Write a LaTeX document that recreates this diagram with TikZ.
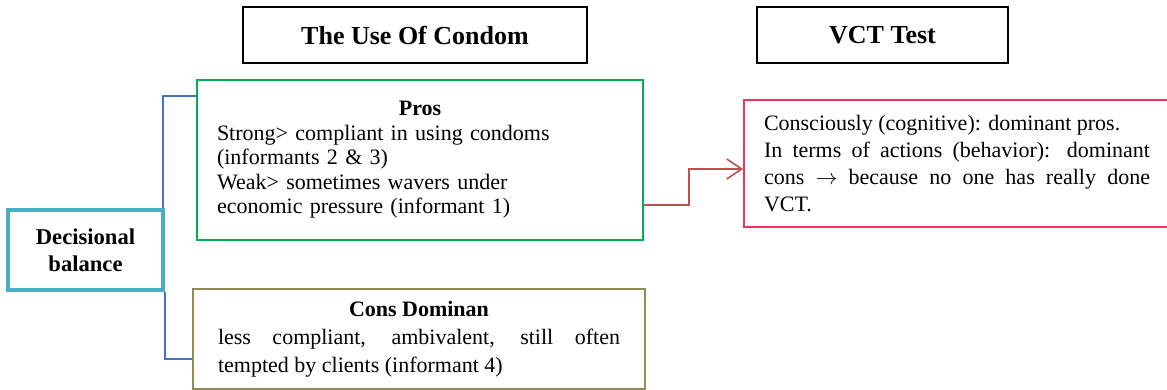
\documentclass[tikz,border=0pt]{standalone}
\usepackage{fontspec}
\setmainfont{Liberation Serif}
\usetikzlibrary{arrows.meta,positioning,calc}

\definecolor{prosgreen}{RGB}{0,176,80}
\definecolor{consolive}{RGB}{148,138,84}
\definecolor{vctpink}{RGB}{236,52,96}
\definecolor{balanceteal}{RGB}{75,172,198}
\definecolor{bracketblue}{RGB}{68,114,196}
\definecolor{arrowred}{RGB}{192,80,77}

\begin{document}
\begin{tikzpicture}[x=0.5pt, y=-0.5pt,
      header/.style={draw, line width=0.8pt, minimum width=172pt, minimum height=28pt,
        font=\fontsize{13}{15}\selectfont\bfseries},
      balance/.style={draw=balanceteal, line width=2pt, minimum width=77.5pt, minimum height=40pt,
        align=center, font=\fontsize{11.3}{13.5}\selectfont\bfseries},
      textbox/.style={draw, line width=0.8pt, inner xsep=10pt,
        font=\fontsize{11}{12.25}\selectfont},
      bracket/.style={draw=bracketblue, line width=0.7pt},
      arrow/.style={-{Straight Barb[length=7.5pt,width=10pt]}, arrowred, line width=0.8pt}
    ]
      \useasboundingbox (0,0) rectangle (1167,390);

      % Headers
      \node[header] (condom) at (415,35) {The Use Of Condom};
      \node[header, minimum width=125.5pt] (vcttitle) at (882.5,35) {VCT Test};

      % Decisional balance
      \node[balance] (dec) at (85.5,250) {Decisional\\balance};

      % Pros
      \node[textbox, draw=prosgreen, minimum width=223pt, minimum height=80pt,
        text width=203pt, align=left] (pros) at (420,160)
        {\makebox[\linewidth]{\textbf{Pros}}\\
         Strong> compliant in using condoms\\
         (informants 2 \& 3)\\
         Weak> sometimes wavers under\\
         economic pressure (informant 1)};

      % Cons
      \node[textbox, draw=consolive, minimum width=226pt, minimum height=50pt,
        text width=201pt, inner xsep=12.5pt, align=justify,
        font=\fontsize{11}{14}\selectfont] (cons) at (419,339)
        {\makebox[\linewidth]{\textbf{Cons Dominan}}\\
         less compliant, ambivalent, still often\linebreak
         tempted by clients (informant 4)};

      % VCT
      \node[textbox, draw=vctpink, minimum width=213pt, minimum height=63.5pt,
        text width=193pt, align=justify,
        font=\fontsize{11}{13.5}\selectfont] (vct) at (957,163.5)
        {Consciously (cognitive): dominant pros.\\
         In terms of actions (behavior): dominant\linebreak
         cons $\rightarrow$ because no one has really done\linebreak
         VCT.};

      % Brackets
      \draw[bracket] ([yshift=-8.5pt]pros.north west) -| ([xshift=-1pt]dec.north east);
      \draw[bracket] ([xshift=0pt]dec.south east) |- ([yshift=-10pt]cons.west);

      % Arrow
      \draw[arrow] ([yshift=-22.5pt]pros.east) -- ++(22.5pt,0) |- ([yshift=-2.75pt]vct.west);
    \end{tikzpicture}
\end{document}
